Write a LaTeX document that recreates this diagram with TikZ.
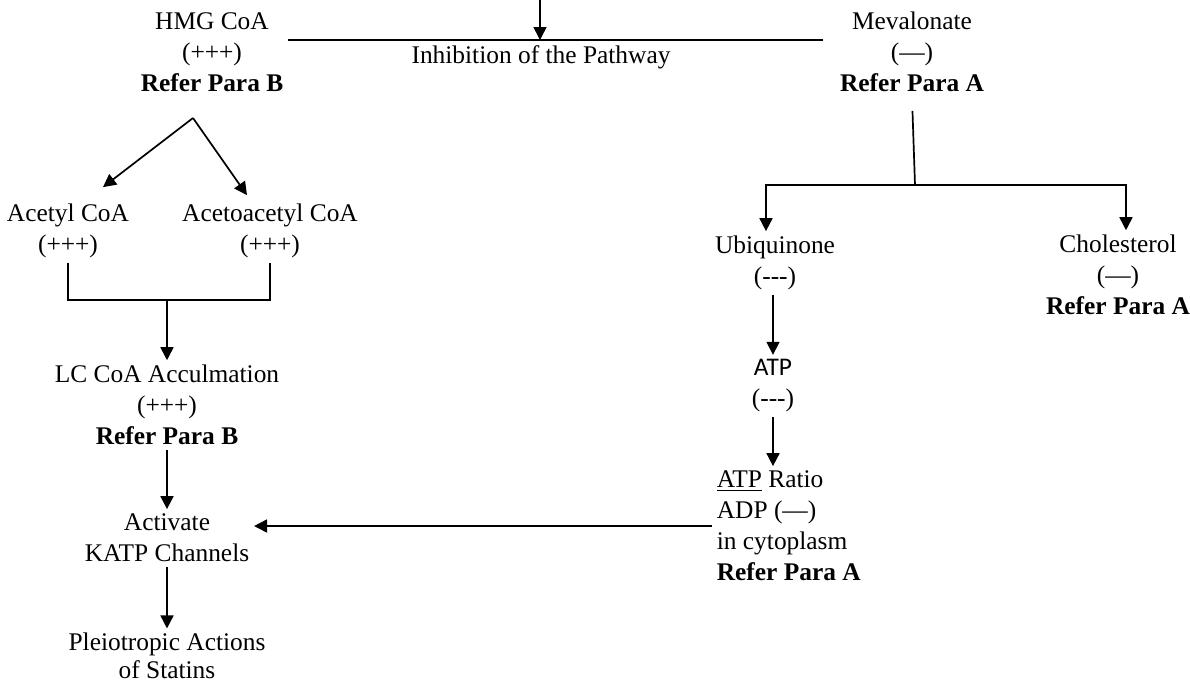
\documentclass[tikz,border=0pt]{standalone}
\usepackage{fontspec}
\setmainfont{Liberation Serif}
\newfontfamily\atpfont{Carlito}
\usetikzlibrary{arrows.meta}

\begin{document}
\begin{tikzpicture}[x=0.5pt, y=-0.5pt, line width=0.85pt,
    every node/.style={font=\fontsize{12.7}{15.5}\selectfont, align=center, inner sep=2pt},
    flow/.style={-{Triangle[length=6.5pt,width=6.5pt]}}]
    \useasboundingbox (0,0) rectangle (1190,682);

    % Inhibition of the pathway at the top
    \coordinate (src) at (540,0);
    \coordinate (inhM) at (540,40);
    \node (hmg) at (212,52) {HMG CoA\\(+++)\\\textbf{Refer Para B}};
    \node (inh) at (541,57) {Inhibition of the Pathway};
    \node (mev) at (912,52) {Mevalonate\\(---)\\\textbf{Refer Para A}};
    \draw[flow] (src) -- (inhM);
    \draw (hmg.east |- inhM) -- ([xshift=-6pt]mev.west |- inhM);

    % Left branch: HMG CoA splits
    \coordinate (split) at (193,118);
    \node (acetyl) at (68,231) {Acetyl CoA\\(+++)};
    \node (acetoac) at (270,231) {Acetoacetyl CoA\\(+++)};
    \draw[flow] (split) -- ([xshift=17.5pt,yshift=6pt]acetyl.north);
    \draw[flow] (split) -- ([xshift=-11.5pt,yshift=2pt]acetoac.north);

    % Both join into the LC CoA accumulation
    \coordinate (join) at (167,300);
    \node (lc) at (167,405) {LC CoA Acculmation\\(+++)\\\textbf{Refer Para B}};
    \draw (acetyl.south) |- (join) -| (acetoac.south);
    \draw[flow] (join) -- (lc.north);

    \node (act) at (167,538) {Activate\\KATP Channels};
    \node[font=\fontsize{12.7}{13.8}\selectfont] (pleio) at (167,656) {Pleiotropic Actions\\of Statins};
    \draw[flow] (lc.south) -- (act.north);
    \draw[flow] (act.south) -- (pleio.north);

    % Right branch: Mevalonate
    \coordinate (fork) at (915,185);
    \node (ubi) at (775,263) {Ubiquinone\\(-{}-{}-)};
    \node (chol) at (1118,275) {Cholesterol\\(---)\\\textbf{Refer Para A}};
    \draw[shorten <=7pt] (mev.south) -- (fork);
    \draw[flow] (fork) -| ([xshift=-4.5pt]ubi.north);
    \draw[flow] (fork) -| ([xshift=4pt]chol.north);

    \node (atp) at (773,386) {{\atpfont ATP}\\(-{}-{}-)};
    \node[anchor=west, align=left] (ratio) at (712,526)
        {\underline{ATP} Ratio\\ADP (---)\\in cytoplasm\\\textbf{Refer Para A}};
    \draw[flow] (atp.north |- ubi.south) -- (atp.north);
    \draw[flow] (atp.south) -- (atp.south |- ratio.north);

    % Ratio feeds back to the KATP channels
    \draw[flow] (ratio.west) -- (ratio.west -| act.east);

\end{tikzpicture}
\end{document}
